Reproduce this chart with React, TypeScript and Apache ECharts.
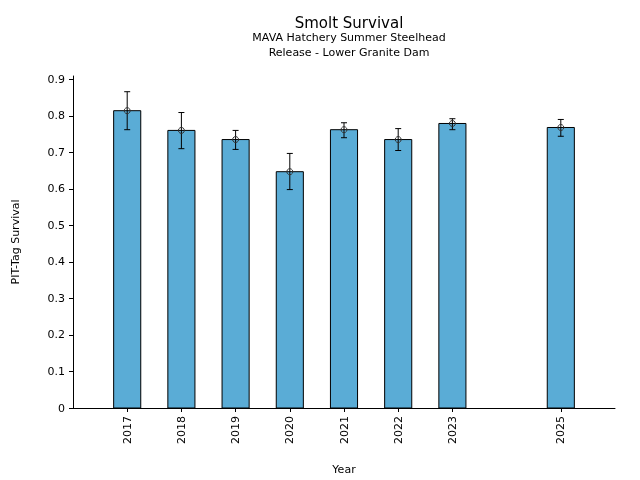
import React, { useEffect, useRef } from "react";
import * as echarts from "echarts";

const years = [2017, 2018, 2019, 2020, 2021, 2022, 2023, 2025];
const survival = [0.814, 0.760, 0.735, 0.647, 0.762, 0.735, 0.779, 0.768];
const lower = [0.762, 0.710, 0.708, 0.598, 0.740, 0.705, 0.762, 0.744];
const upper = [0.866, 0.809, 0.760, 0.697, 0.781, 0.765, 0.792, 0.790];
const yTicks = [0, 0.1, 0.2, 0.3, 0.4, 0.5, 0.6, 0.7, 0.8, 0.9];

const FONT = "DejaVu Sans";

export default function App() {
  const ref = useRef<HTMLDivElement>(null);
  useEffect(() => {
    const chart = echarts.init(ref.current!, null, { renderer: "svg" });
    const barData = years.map((y, i) => [y, survival[i]]);
    const errData = years.map((y, i) => [y, survival[i], lower[i], upper[i]]);
    chart.setOption({
      animation: false,
      textStyle: { fontFamily: FONT },
      title: {
        text: "Smolt Survival",
        subtext: "MAVA Hatchery Summer Steelhead\nRelease - Lower Granite Dam",
        left: 344,
        top: 10,
        textAlign: "center",
        itemGap: 0,
        textStyle: { fontFamily: FONT, fontSize: 15, fontWeight: "normal", color: "#000" },
        subtextStyle: { fontFamily: FONT, fontSize: 11, color: "#000", lineHeight: 15 },
      },
      grid: { left: 73, right: 25, top: 76, bottom: 72, containLabel: false },
      xAxis: {
        type: "value",
        min: 2016,
        max: 2026,
        name: "Year",
        nameLocation: "middle",
        nameGap: 56,
        nameTextStyle: { fontFamily: FONT, fontSize: 11, color: "#000" },
        splitLine: { show: false },
        axisLine: { show: true, lineStyle: { color: "#000", width: 1 } },
        axisTick: { show: true, length: 4, customValues: years, lineStyle: { color: "#000" } },
        axisLabel: {
          customValues: years,
          rotate: 90,
          margin: 8,
          fontFamily: FONT,
          fontSize: 11,
          color: "#000",
          formatter: (v: number) => String(v),
        },
      },
      yAxis: {
        type: "value",
        min: 0,
        max: 0.909,
        name: "PIT-Tag Survival",
        nameLocation: "middle",
        nameGap: 52,
        nameTextStyle: { fontFamily: FONT, fontSize: 11, color: "#000" },
        splitLine: { show: false },
        axisLine: { show: true, lineStyle: { color: "#000", width: 1 } },
        axisTick: { show: true, length: 4, customValues: yTicks, lineStyle: { color: "#000" } },
        axisLabel: {
          customValues: yTicks,
          margin: 8,
          fontFamily: FONT,
          fontSize: 11,
          color: "#000",
          formatter: (v: number) => (v === 0 ? "0" : v.toFixed(1)),
        },
      },
      series: [
        {
          type: "custom",
          data: barData,
          renderItem: (params: any, api: any) => {
            const x = api.value(0);
            const v = api.value(1);
            const p1 = api.coord([x, v]);
            const p0 = api.coord([x, 0]);
            const w = api.size([0.5, 0])[0];
            return {
              type: "rect",
              shape: { x: p1[0] - w / 2, y: p1[1], width: w, height: p0[1] - p1[1] },
              style: { fill: "#5aacd6", stroke: "#000", lineWidth: 1 },
            };
          },
          z: 2,
        },
        {
          type: "custom",
          data: errData,
          renderItem: (params: any, api: any) => {
            const x = api.value(0);
            const c = api.coord([x, api.value(1)]);
            const lo = api.coord([x, api.value(2)]);
            const hi = api.coord([x, api.value(3)]);
            const cap = 3;
            return {
              type: "group",
              children: [
                { type: "line", shape: { x1: lo[0], y1: lo[1], x2: hi[0], y2: hi[1] }, style: { stroke: "#000", lineWidth: 1 } },
                { type: "line", shape: { x1: lo[0] - cap, y1: lo[1], x2: lo[0] + cap, y2: lo[1] }, style: { stroke: "#000", lineWidth: 1 } },
                { type: "line", shape: { x1: hi[0] - cap, y1: hi[1], x2: hi[0] + cap, y2: hi[1] }, style: { stroke: "#000", lineWidth: 1 } },
                { type: "circle", shape: { cx: c[0], cy: c[1], r: 3 }, style: { fill: "none", stroke: "#333", lineWidth: 1 } },
              ],
            };
          },
          z: 3,
        },
      ],
    });
    return () => chart.dispose();
  }, []);
  return (
    <div
      ref={ref}
      style={{ position: "fixed", left: 0, top: 0, width: 640, height: 480 }}
    />
  );
}
